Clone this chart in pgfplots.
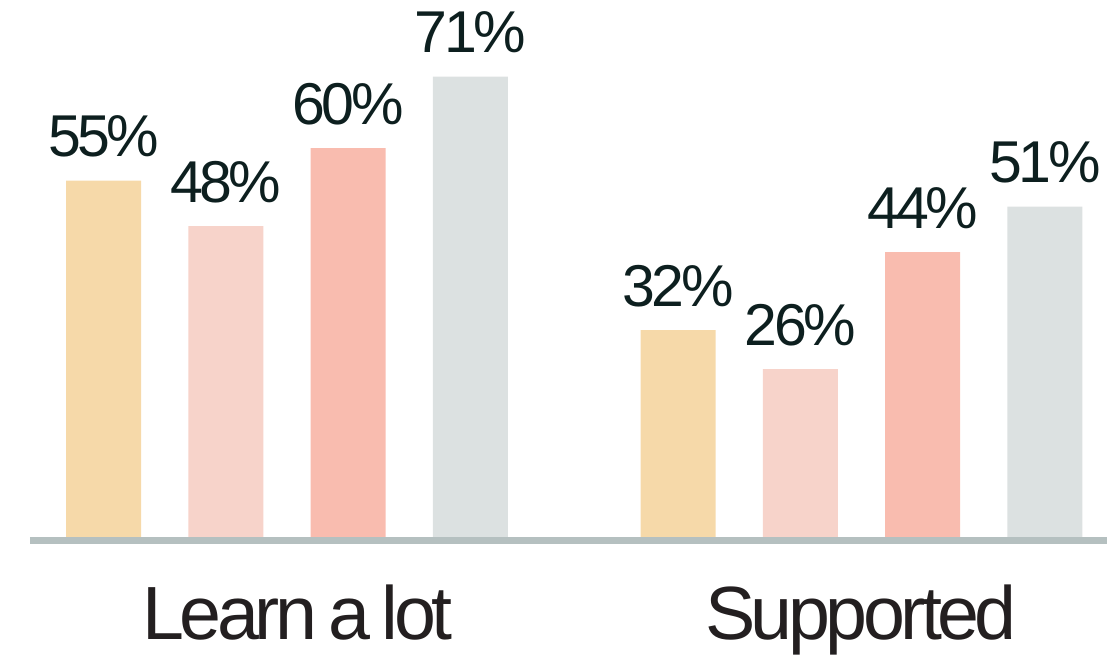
\documentclass[border=0pt]{standalone}
\usepackage{pgfplots}
\pgfplotsset{compat=1.18}
\usepackage{fontspec}
\setmainfont{Liberation Sans}
\newfontfamily\numfont[LetterSpace=-6]{Liberation Sans}
\newfontfamily\catfont[LetterSpace=-6,WordSpace=0.7]{Liberation Sans}
\definecolor{cA}{HTML}{F6D9A9}
\definecolor{cB}{HTML}{F7D3CA}
\definecolor{cC}{HTML}{F9BCAF}
\definecolor{cD}{HTML}{DCE1E1}
\definecolor{baseC}{HTML}{B5C0C0}
\definecolor{txt}{HTML}{0D1F1F}
\definecolor{cattxt}{HTML}{231F20}
\begin{document}
\begin{tikzpicture}
\useasboundingbox (0,0) rectangle (553.5pt,327.5pt);
\begin{axis}[at={(0,0)}, anchor=south west, scale only axis,
  width=553.5pt, height=327.5pt,
  xmin=-0.4996, xmax=1.4273, ymin=-18.0, ymax=82.77,
  hide axis, clip=false,
  /pgf/number format/assume math mode=true,
  ybar=23.65pt, bar width=37.5pt,
  nodes near coords={\pgfmathprintnumber{\pgfplotspointmeta}\%},
  every node near coord/.append style={anchor=base, yshift=12pt, inner sep=0pt,
    font=\numfont\fontsize{29.5}{31}\selectfont, text=txt}]
\addplot[fill=cA, draw=none] coordinates {(0,55) (1,32)};
\addplot[fill=cB, draw=none] coordinates {(0,48) (1,26)};
\addplot[fill=cC, draw=none] coordinates {(0,60) (1,44)};
\addplot[fill=cD, draw=none] coordinates {(0,71) (1,51)};
\draw[line width=3.5pt, baseC] (axis cs:-0.4474,-0.385) -- (axis cs:1.4273,-0.385);
\node[anchor=base, inner sep=0pt, text=cattxt, font=\catfont\fontsize{37.7}{40}\selectfont] at (axis cs:0.018,-15.54) {Learn a lot};
\node[anchor=base, inner sep=0pt, text=cattxt, font=\catfont\fontsize{37.7}{40}\selectfont] at (axis cs:0.999,-15.54) {Supported};
\end{axis}
\end{tikzpicture}
\end{document}
